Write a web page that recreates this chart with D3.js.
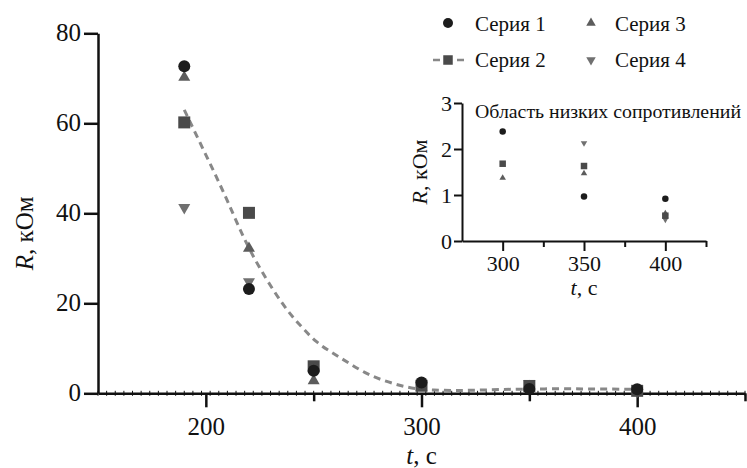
<!DOCTYPE html>
<html><head><meta charset="utf-8">
<script src="https://cdn.jsdelivr.net/npm/d3@7"></script>
</head><body style="margin:0"><svg id="c" width="747" height="468" style="display:block;font-family:'Times New Roman','Liberation Serif',Tinos,FreeSerif,serif" font-family="Times New Roman, Liberation Serif, serif"></svg>
<script>
// ---- data ----
const times = [190, 220, 250, 300, 350, 400];
const seriesNames = ["Серия 1", "Серия 2", "Серия 3", "Серия 4"];
const s1 = [72.7, 23.2, 5.0, 2.38, 0.97, 0.92];
const s2 = [60.2, 40.1, 6.0, 1.68, 1.63, 0.55];
const s3 = [70.2, 32.2, 2.8, 1.37, 1.47, 0.6];
const s4 = [41.3, 24.8, null, null, 2.13, 0.47];
const fitT = [190, 200, 210, 220, 236, 244, 251, 259, 267, 275, 282, 290, 297, 305, 317, 328, 351, 375, 396, 399];
const fitR = [63, 53, 43, 31.5, 19.2, 15, 11.3, 8.9, 6.5, 4.2, 2.9, 1.7, 1.0, 0.68, 0.6, 0.73, 1.0, 1.0, 0.9, 0.88];
const xTicks = [200, 300, 400];
const xMinor = [250, 350, 450];
const yTicks = [0, 20, 40, 60, 80];
const insetXTicks = [300, 350, 400];
const insetXMinor = [325, 375, 425];
const insetYTicks = [0, 1, 2, 3];
const colors = ["#1c1c1c", "#4a4a4a", "#5c5c5c", "#707070"];
const shapes = ["circle", "square", "tri", "tridown"];
const allSeries = [s1, s2, s3, s4];

const FF = "'Times New Roman', 'Liberation Serif', Tinos, FreeSerif, serif";
const svg = d3.select("#c");
const fmt = d3.format("d");

function sym(shape, size) {
  if (shape === "circle") return d3.symbol(d3.symbolCircle, Math.PI * size * size / 4)();
  if (shape === "square") return d3.symbol(d3.symbolSquare, size * size)();
  return d3.symbol(d3.symbolTriangle, Math.sqrt(3) / 4 * size * size)();
}
function marker(g, shape, size, cx, cy, color) {
  g.append("path").attr("d", sym(shape, size))
    .attr("transform", `translate(${cx},${cy})` + (shape === "tridown" ? " rotate(180)" : ""))
    .attr("fill", color);
}
function styleAxis(g, sw, fs) {
  g.attr("font-family", null).attr("font-size", null);
  g.select(".domain").attr("stroke-width", sw).attr("stroke", "#111");
  g.selectAll(".tick line").attr("stroke-width", sw).attr("stroke", "#111");
  g.selectAll("text").style("font-family", FF).style("font-size", fs + "px").attr("fill", "#111");
}
function txt(g, fs) {
  return g.append("text").style("font-family", FF).style("font-size", fs + "px").attr("fill", "#111");
}

// ---- main chart ----
const x = d3.scaleLinear().domain([150, 450]).range([98, 745]);
const y = d3.scaleLinear().domain([0, 80]).range([393.3, 33.3]);

const gy = svg.append("g").attr("transform", `translate(${x(150)},0)`)
  .call(d3.axisLeft(y).tickValues(yTicks).tickFormat(fmt).tickSize(14).tickPadding(3).tickSizeOuter(0));
styleAxis(gy, 2.5, 25);
gy.selectAll("text").attr("dy", "0.3em");

// ruler ticks along x-axis
svg.append("g").selectAll("line").data(d3.range(150, 451, 4)).join("line")
  .attr("x1", d => x(d)).attr("x2", d => x(d)).attr("y1", y(0) - 2.5).attr("y2", y(0) + 2.5)
  .attr("stroke", "#111").attr("stroke-width", 1);

const gx = svg.append("g").attr("transform", `translate(0,${y(0)})`)
  .call(d3.axisBottom(x).tickValues(xTicks).tickFormat(fmt).tickSize(14).tickPadding(10).tickSizeOuter(0));
styleAxis(gx, 2.5, 25);
const gxm = svg.append("g").attr("transform", `translate(0,${y(0)})`)
  .call(d3.axisBottom(x).tickValues(xMinor).tickSize(8).tickFormat("").tickSizeOuter(0));
gxm.select(".domain").remove();
gxm.selectAll(".tick line").attr("stroke-width", 2.5).attr("stroke", "#111");

function label(sel, a, b) {
  sel.append("tspan").style("font-style", "italic").text(a);
  sel.append("tspan").text(b);
}
txt(svg, 25).attr("transform", `translate(33,${(y(0) + y(80)) / 2 + 20}) rotate(-90)`)
  .attr("text-anchor", "middle").call(label, "R", ", кОм");
txt(svg, 25).attr("x", x(300)).attr("y", 464).attr("text-anchor", "middle").call(label, "t", ", с");

// fit curve
const fit = fitT.map((t, i) => [t, fitR[i]]);
svg.append("path").datum(fit)
  .attr("d", d3.line().x(d => x(d[0])).y(d => y(d[1])).curve(d3.curveBasis))
  .attr("fill", "none").attr("stroke", "#888").attr("stroke-width", 3).attr("stroke-dasharray", "7,5");

// points (series 4 first, series 1 last)
const gp = svg.append("g");
[3, 2, 1, 0].forEach(si => {
  allSeries[si].forEach((v, i) => {
    if (v == null) return;
    marker(gp, shapes[si], 12, x(times[i]), y(v), colors[si]);
  });
});

// legend
const lg = svg.append("g");
const legPos = [[448, 23, 475, 31], [448, 60, 475, 67], [591, 23, 615, 31], [591, 60, 615, 67]];
legPos.forEach((p, i) => {
  if (i === 1) {
    lg.append("line").attr("x1", 433).attr("x2", 464).attr("y1", p[1]).attr("y2", p[1])
      .attr("stroke", "#888").attr("stroke-width", 2.5).attr("stroke-dasharray", "7,5");
  }
  marker(lg, shapes[i], i === 0 ? 10 : 9.5, p[0], p[1], colors[i]);
  txt(lg, 21).attr("x", p[2]).attr("y", p[3]).text(seriesNames[i]);
});

// ---- inset ----
const xi = d3.scaleLinear().domain([275, 425]).range([462, 706]);
const yi = d3.scaleLinear().domain([0, 3]).range([241, 103]);
const giy = svg.append("g").attr("transform", `translate(${xi(275)},0)`)
  .call(d3.axisLeft(yi).tickValues(insetYTicks).tickFormat(fmt).tickSize(8).tickPadding(2).tickSizeOuter(0));
styleAxis(giy, 2, 22);
giy.selectAll("text").attr("dy", "0.33em");
const gix = svg.append("g").attr("transform", `translate(0,${yi(0)})`)
  .call(d3.axisBottom(xi).tickValues(insetXTicks).tickFormat(fmt).tickSize(10).tickPadding(4).tickSizeOuter(0));
styleAxis(gix, 2, 22);
const gixm = svg.append("g").attr("transform", `translate(0,${yi(0)})`)
  .call(d3.axisBottom(xi).tickValues(insetXMinor).tickSize(6).tickFormat("").tickSizeOuter(0));
gixm.select(".domain").remove();
gixm.selectAll(".tick line").attr("stroke-width", 2).attr("stroke", "#111");

txt(svg, 19).attr("x", 475).attr("y", 118).attr("textLength", 266).attr("lengthAdjust", "spacingAndGlyphs")
  .text("Область низких сопротивлений");
txt(svg, 22).attr("transform", `translate(427,${(yi(0) + yi(3)) / 2}) rotate(-90)`)
  .attr("text-anchor", "middle").call(label, "R", ", кОм");
txt(svg, 22).attr("x", xi(350)).attr("y", 295).attr("text-anchor", "middle").call(label, "t", ", с");

const gip = svg.append("g");
[3, 2, 1, 0].forEach(si => {
  allSeries[si].forEach((v, i) => {
    if (v == null || times[i] < 300) return;
    marker(gip, shapes[si], 6.5, xi(times[i]), yi(v), colors[si]);
  });
});
</script></body></html>
